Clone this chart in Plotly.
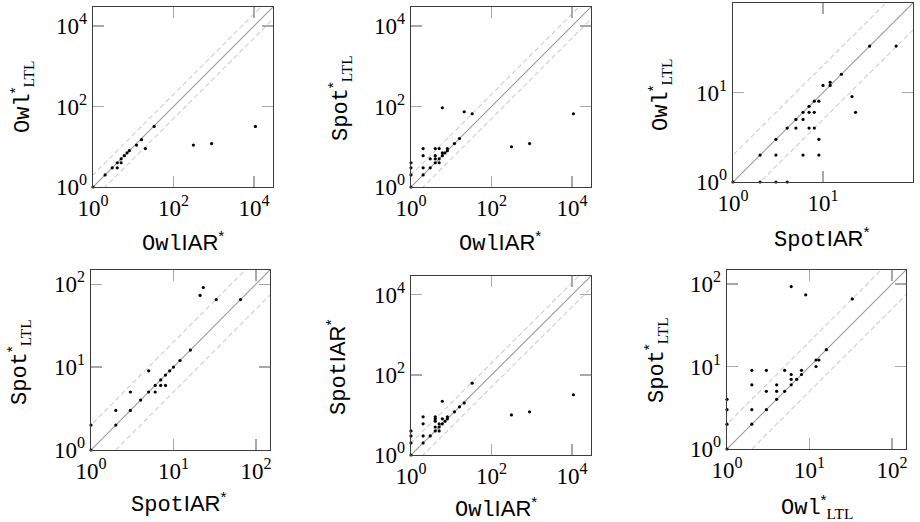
import plotly.graph_objects as go

# ---------------- data ----------------
# Panel 1: OwlIAR* (x) vs Owl*_LTL (y)
p1_x = [1, 2, 3, 4, 4, 5, 5, 6, 7, 8, 12, 16, 20, 33, 312, 880, 10800]
p1_y = [1, 2, 3, 3, 4, 4, 5, 6, 7, 8, 11, 15, 9, 32, 11, 12, 32]

# Panel 2: OwlIAR* (x) vs Spot*_LTL (y)
p2_x = [1, 1, 1, 1, 2, 2, 2, 2, 3, 3, 4, 4, 4, 4, 5, 5, 5, 6, 6, 7, 8, 8, 12, 16, 6, 21, 33, 312, 880, 10800]
p2_y = [1, 2, 3, 4, 2, 3, 6, 9, 3, 5, 4, 5, 6, 9, 4, 5, 9, 6, 7, 7, 8, 9, 12, 16, 93, 74, 66, 10, 12, 66]

# Panel 3: SpotIAR* (x) vs Owl*_LTL (y)
p3_x = [1, 2, 3, 4, 2, 3, 3, 4, 5, 6, 7, 8, 9, 7, 8, 6, 5, 7, 8, 9, 6, 9, 10, 12, 12, 16, 21, 23, 33, 65]
p3_y = [1, 1, 1, 1, 2, 2, 3, 4, 5, 6, 7, 8, 8, 6, 6, 5, 4, 4, 4, 3, 2, 2, 12, 13, 12, 16, 9, 6, 33, 33]

# Panel 4: SpotIAR* (x) vs Spot*_LTL (y)
p4_x = [1, 1, 2, 2, 3, 3, 4, 5, 5, 6, 6, 7, 7, 8, 8, 9, 10, 12, 16, 21, 23, 33, 65]
p4_y = [1, 2, 2, 3, 3, 5, 4, 5, 9, 5, 6, 7, 6, 6, 8, 9, 10, 12, 16, 73, 91, 65, 65]

# Panel 5: OwlIAR* (x) vs SpotIAR* (y)
p5_x = [1, 1, 1, 1, 2, 2, 2, 2, 3, 4, 4, 4, 4, 4, 5, 5, 5, 6, 6, 7, 8, 8, 6, 12, 16, 21, 33, 312, 880, 10800]
p5_y = [1, 2, 3, 4, 2, 3, 6, 9, 3, 4, 5, 7, 8, 9, 4, 5, 6, 6, 8, 7, 8, 9, 22, 12, 16, 20, 62, 10, 12, 32]

# Panel 6: Owl*_LTL (x) vs Spot*_LTL (y)
p6_x = [1, 1, 1, 1, 2, 2, 2, 2, 3, 3, 3, 4, 4, 4, 5, 5, 6, 6, 6, 7, 8, 8, 12, 12, 13, 16, 6, 9, 33]
p6_y = [1, 2, 3, 4, 2, 3, 6, 9, 3, 5, 9, 4, 5, 6, 5, 9, 6, 7, 8, 7, 8, 9, 10, 12, 12, 16, 93, 74, 66]

# reference lines y = f * x
diag_x = [0.1, 1e6]
diag_factors = [1, 2, 0.5]

# tick values / labels
ticks_wide = [1, 100, 10000]
ticks_wide_text = ["10<sup>0</sup>", "10<sup>2</sup>", "10<sup>4</sup>"]
ticks_small = [1, 10]
ticks_small_text = ["10<sup>0</sup>", "10<sup>1</sup>"]
ticks_mid = [1, 10, 100]
ticks_mid_text = ["10<sup>0</sup>", "10<sup>1</sup>", "10<sup>2</sup>"]

MONO = "Liberation Mono"
SERIF = "Liberation Serif"
OWL_IAR = f'<span style="font-family:{MONO}">Owl</span>IAR<sup>*</sup>'
SPOT_IAR = f'<span style="font-family:{MONO}">Spot</span>IAR<sup>*</sup>'
OWL_LTL = f'<span style="font-family:{MONO}">Owl</span><sup>*</sup><sub><span style="font-family:{SERIF}">LTL</span></sub>'
SPOT_LTL = f'<span style="font-family:{MONO}">Spot</span><sup>*</sup><sub><span style="font-family:{SERIF}">LTL</span></sub>'

W, H = 920, 522

panels = [
    dict(x=p1_x, y=p1_y, box=(93, 273, 7, 187), xr=4.47, yr=4.47, xt=(ticks_wide, ticks_wide_text), yt=(ticks_wide, ticks_wide_text),
         xlab=OWL_IAR, ylab=OWL_LTL, xlabpos=(183, 242), ylabpos=(21, 97)),
    dict(x=p2_x, y=p2_y, box=(411, 591, 7, 187), xr=4.47, yr=4.47, xt=(ticks_wide, ticks_wide_text), yt=(ticks_wide, ticks_wide_text),
         xlab=OWL_IAR, ylab=SPOT_LTL, xlabpos=(500, 242), ylabpos=(339, 98)),
    dict(x=p3_x, y=p3_y, box=(733, 913, 3, 182), xr=2.0, yr=2.0, xt=(ticks_small, ticks_small_text), yt=(ticks_small, ticks_small_text),
         xlab=SPOT_IAR, ylab=OWL_LTL, xlabpos=(822, 238), ylabpos=(660, 95)),
    dict(x=p4_x, y=p4_y, box=(91, 270, 270, 450), xr=2.17, yr=2.17, xt=(ticks_mid, ticks_mid_text), yt=(ticks_mid, ticks_mid_text),
         xlab=SPOT_IAR, ylab=SPOT_LTL, xlabpos=(179, 503), ylabpos=(18, 362)),
    dict(x=p5_x, y=p5_y, box=(411, 591, 276, 455), xr=4.47, yr=4.47, xt=(ticks_wide, ticks_wide_text), yt=(ticks_wide, ticks_wide_text),
         xlab=OWL_IAR, ylab=SPOT_IAR, xlabpos=(496, 508), ylabpos=(337, 367)),
    dict(x=p6_x, y=p6_y, box=(727, 906, 270, 449), xr=2.17, yr=2.17, xt=(ticks_mid, ticks_mid_text), yt=(ticks_mid, ticks_mid_text),
         xlab=OWL_LTL, ylab=SPOT_LTL, xlabpos=(817, 506), ylabpos=(655, 360)),
]

fig = go.Figure()
annotations = []
axis_common = dict(
    type="log", showgrid=False, zeroline=False, automargin=False,
    showline=True, linecolor="#3c3c3c", linewidth=1.3, mirror="ticks",
    ticks="inside", ticklen=11, tickwidth=1.2, tickcolor="#a8a8a8",
    tickfont=dict(family=SERIF, size=23, color="black"),
    tickmode="array", fixedrange=True,
)

for i, p in enumerate(panels):
    n = "" if i == 0 else str(i + 1)
    xa, ya = "x" + n, "y" + n
    x0, x1, yt, yb = p["box"]
    fig.layout["xaxis" + n] = dict(axis_common, domain=[x0 / W, x1 / W], anchor=ya,
                                   range=[0, p["xr"]], tickvals=p["xt"][0], ticktext=p["xt"][1])
    fig.layout["yaxis" + n] = dict(axis_common, domain=[1 - yb / H, 1 - yt / H], anchor=xa,
                                   range=[0, p["yr"]], tickvals=p["yt"][0], ticktext=p["yt"][1])
    for f in diag_factors:
        fig.add_trace(go.Scatter(
            x=diag_x, y=[v * f for v in diag_x], mode="lines", xaxis=xa, yaxis=ya,
            line=dict(color="#9a9a9a" if f == 1 else "#cfcfcf", width=1.1,
                      dash="solid" if f == 1 else "5px,3px"),
            hoverinfo="skip", showlegend=False))
    fig.add_trace(go.Scatter(
        x=p["x"], y=p["y"], mode="markers", xaxis=xa, yaxis=ya, cliponaxis=False,
        marker=dict(color="black", size=3.2, line=dict(width=0)), showlegend=False))
    annotations.append(dict(x=p["xlabpos"][0] / W, y=1 - p["xlabpos"][1] / H, xref="paper", yref="paper",
                            text=p["xlab"], showarrow=False, xanchor="center", yanchor="middle",
                            font=dict(family="Liberation Sans", size=22, color="black")))
    annotations.append(dict(x=p["ylabpos"][0] / W, y=1 - p["ylabpos"][1] / H, xref="paper", yref="paper",
                            text=p["ylab"], showarrow=False, xanchor="center", yanchor="middle", textangle=-90,
                            font=dict(family="Liberation Sans", size=22, color="black")))

fig.update_layout(
    width=W, height=H, margin=dict(l=0, r=0, t=0, b=0, autoexpand=False),
    paper_bgcolor="white", plot_bgcolor="white",
    annotations=annotations, showlegend=False, hovermode=False,
)

fig.write_html("out.html", config={"displayModeBar": False, "staticPlot": True},
               post_script="document.body.style.margin='0';document.body.style.padding='0';")
